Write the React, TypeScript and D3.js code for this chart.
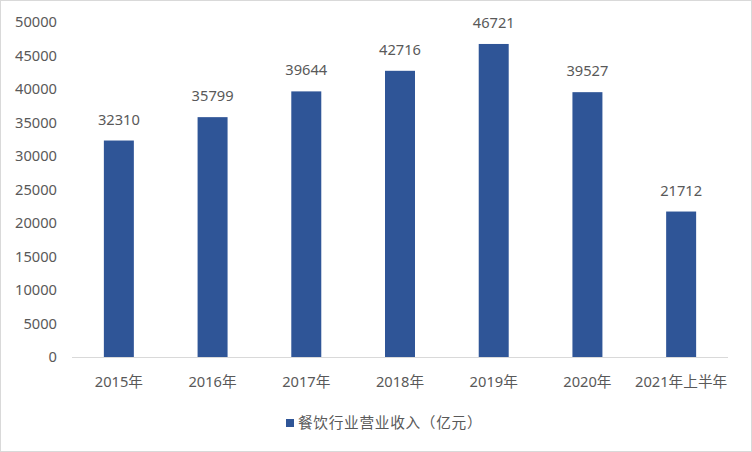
import React from "react";
import * as d3 from "d3";

const categories = ["2015年", "2016年", "2017年", "2018年", "2019年", "2020年", "2021年上半年"];
const values = [32310, 35799, 39644, 42716, 46721, 39527, 21712];
const yTicks = [0, 5000, 10000, 15000, 20000, 25000, 30000, 35000, 40000, 45000, 50000];
const seriesName = "餐饮行业营业收入（亿元）";

const W = 752;
const H = 452;
const FONT = "'Noto Sans', 'Noto Sans CJK SC', sans-serif";
const FS = 14.67;
const TEXT = "#595959";
const BAR = "#2F5597";

export default function App() {
  const x = d3.scaleBand<string>().domain(categories).range([72, 728]).paddingInner(0.68).paddingOuter(0.34);
  const y = d3.scaleLinear().domain([0, 50000]).range([357, 22]);
  return (
    <div style={{ position: "fixed", left: 0, top: 0 }}>
      <svg width={W} height={H} style={{ display: "block", fontFamily: FONT }}>
        <rect x={0.5} y={0.5} width={W - 1} height={H - 1} fill="#fff" stroke="#D9D9D9" />
        {yTicks.map((t) => (
          <text key={t} x={57} y={y(t)} dy="0.35em" textAnchor="end" fontSize={FS} fill={TEXT}>
            {t}
          </text>
        ))}
        {categories.map((c, i) => (
          <g key={c}>
            <rect x={x(c)!} y={y(values[i])} width={x.bandwidth()} height={y(0) - y(values[i])} fill={BAR} />
            <text x={x(c)! + x.bandwidth() / 2} y={y(values[i]) - 16} textAnchor="middle" fontSize={FS} fill={TEXT}>
              {values[i]}
            </text>
            <text x={x(c)! + x.bandwidth() / 2} y={382} dy="0.35em" textAnchor="middle" fontSize={FS} fill={TEXT}>
              {c}
            </text>
          </g>
        ))}
        <line x1={72} x2={728} y1={357.5} y2={357.5} stroke="#D9D9D9" />
        <rect x={286} y={419} width={8} height={8} fill={BAR} />
        <text x={298} y={423} dy="0.35em" fontSize={FS} letterSpacing={0.7} fill={TEXT}>
          {seriesName}
        </text>
      </svg>
    </div>
  );
}
